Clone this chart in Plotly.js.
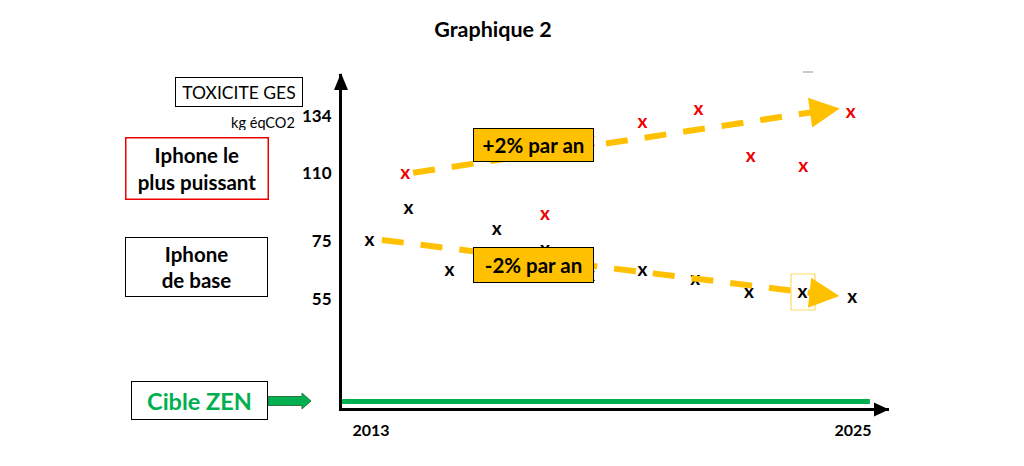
<!DOCTYPE html>
<html><head><meta charset="utf-8">
<script src="https://cdn.plot.ly/plotly-3.0.1.min.js"></script>
<style>html,body{margin:0;padding:0;background:#fff;} #chart{width:1024px;height:466px;}</style>
</head><body><div id="chart"></div>
<script>
// ---- data (schematic y scale) ----
const baseYears   = [2012.96, 2013.93, 2014.95, 2016.13, 2017.33, 2018.45, 2019.76, 2021.07, 2022.41, 2023.74, 2024.98];
const baseValues  = [80.0, 93.7, 67.1, 84.8, 76.2, 64.9, 66.8, 63.2, 57.5, 57.5, 55.3];
const topYears    = [2013.85, 2017.33, 2018.45, 2019.76, 2021.15, 2022.45, 2023.76, 2024.94];
const topValues   = [109.0, 91.0, 123.2, 130.9, 136.3, 116.0, 111.7, 135.4];
const upTrendYears    = [2014.05, 2023.97, 2024.67];
const upTrendValues   = [109.5, 135.6, 137.3];
const downTrendYears  = [2013.27, 2023.97, 2024.66];
const downTrendValues = [80.5, 57.6, 56.3];
const zenYears  = [2012.28, 2025.42];
const zenValues = [10.7, 10.7];
const xTickVals = [2013, 2025];
const xTickText = ['2013', '2025'];
const yTickVals = [55, 80, 109.4, 134];
const yTickText = ['55', '75', '110', '134'];
const upLabel = '+2% par an';
const downLabel = '-2% par an';

// ---- layout helpers (pixel -> paper, for decorations outside the plot) ----
const L = 342, R = 135, T = 74, B = 58, W = 1024, H = 466;
const PW = W - L - R, PH = H - T - B;
const px = v => (v - L) / PW;
const py = v => (H - B - v) / PH;
function path(pts) {
  return 'M' + pts.map(p => px(p[0]).toFixed(5) + ',' + py(p[1]).toFixed(5)).join(' L') + ' Z';
}
const GOLD = '#FFC000', GREEN = '#00B050', RED = '#EE0000';
const FONT = 'Lato, "Open Sans", sans-serif';

const traces = [
  {x: baseYears, y: baseValues, mode: 'text', text: baseYears.map(() => 'x'),
   textfont: {family: FONT, size: 19, color: '#000', weight: 700}, hoverinfo: 'skip', cliponaxis: false},
  {x: topYears, y: topValues, mode: 'text', text: topYears.map(() => 'x'),
   textfont: {family: FONT, size: 19, color: RED, weight: 700}, hoverinfo: 'skip', cliponaxis: false},
  {x: zenYears, y: zenValues, mode: 'lines', line: {color: GREEN, width: 5}, hoverinfo: 'skip'},
  {x: upTrendYears.slice(0, 2), y: upTrendValues.slice(0, 2), mode: 'lines',
   line: {color: GOLD, width: 6, dash: '22px,17px'}, hoverinfo: 'skip'},
  {x: downTrendYears.slice(0, 2), y: downTrendValues.slice(0, 2), mode: 'lines',
   line: {color: GOLD, width: 6, dash: '22px,17px'}, hoverinfo: 'skip'}
];

function box(cx, cy, w, h, text, opts) {
  return Object.assign({
    xref: 'paper', yref: 'paper', x: px(cx), y: py(cy), xanchor: 'center', yanchor: 'middle',
    width: w, height: h, text: text, showarrow: false, borderpad: 0, align: 'center', valign: 'middle',
    font: {family: FONT, size: 20.5, color: '#000', weight: 700}
  }, opts || {});
}

const layout = {
  width: W, height: H,
  margin: {l: L, r: R, t: T, b: B, pad: 0},
  paper_bgcolor: '#fff', plot_bgcolor: '#fff', showlegend: false,
  font: {family: FONT, color: '#000'},
  title: {text: '<b>Graphique 2</b>', xref: 'container', yref: 'container',
          x: 493 / W, y: 1 - 29 / H, xanchor: 'center', yanchor: 'middle',
          font: {family: FONT, size: 21.5, color: '#000'}},
  xaxis: {range: [2012.278, 2025.895], showgrid: false, zeroline: false, showline: true,
          linecolor: '#000', linewidth: 3, tickvals: xTickVals, ticktext: xTickText, ticks: '',
          tickfont: {family: FONT, size: 16, color: '#000', weight: 700}, ticklabelstandoff: 6, fixedrange: true},
  yaxis: {range: [7.94, 152.15], showgrid: false, zeroline: false, showline: true,
          linecolor: '#000', linewidth: 3, tickvals: yTickVals, ticktext: yTickText, ticks: '',
          tickfont: {family: FONT, size: 17, color: '#000', weight: 700}, ticklabelstandoff: 4, fixedrange: true},
  shapes: [
    // axis arrowheads
    {type: 'path', xref: 'paper', yref: 'paper', path: path([[341, 73], [348, 90], [334, 90]]),
     fillcolor: '#000', line: {width: 0}},
    {type: 'path', xref: 'paper', yref: 'paper', path: path([[889, 409.5], [874, 402.5], [874, 416.5]]),
     fillcolor: '#000', line: {width: 0}},
    // green block arrow towards the target line
    {type: 'path', xref: 'paper', yref: 'paper',
     path: path([[268, 396.5], [302, 396.5], [302, 393], [311, 401], [302, 409], [302, 405.5], [268, 405.5]]),
     fillcolor: GREEN, line: {color: '#2A7A45', width: 1}},
    // small highlight box
    {type: 'rect', xref: 'paper', yref: 'paper', x0: px(791), x1: px(815), y0: py(310), y1: py(274),
     line: {color: '#FFD966', width: 1.2}},
    {type: 'line', xref: 'paper', yref: 'paper', x0: px(803), x1: px(813), y0: py(72), y1: py(72),
     line: {color: '#B8B8B8', width: 1.5}}
  ],
  annotations: [
    box(239, 92, 126, 28, 'TOXICITE GES', {bordercolor: '#000', borderwidth: 1,
        font: {family: FONT, size: 17.5, color: '#000', weight: 400}}),
    box(263, 122, 80, 16, 'kg éqCO2', {font: {family: FONT, size: 14.5, color: '#000', weight: 400}}),
    box(196.5, 168, 141, 60, 'Iphone le<br>plus puissant', {bordercolor: RED, borderwidth: 1.5}),
    box(196.5, 267, 141, 58, 'Iphone<br>de base', {bordercolor: '#000', borderwidth: 1}),
    box(199.5, 400.5, 135, 37, 'Cible ZEN', {bordercolor: '#000', borderwidth: 1,
        font: {family: FONT, size: 23.5, color: GREEN, weight: 700}}),
    box(533.5, 145, 119, 32, upLabel, {bgcolor: GOLD, bordercolor: '#000', borderwidth: 1}),
    box(533.5, 265, 119, 34, downLabel, {bgcolor: GOLD, bordercolor: '#000', borderwidth: 1}),
    // trend arrowheads
    {x: upTrendYears[2], y: upTrendValues[2], ax: upTrendYears[1], ay: upTrendValues[1],
     xref: 'x', yref: 'y', axref: 'x', ayref: 'y', text: '', showarrow: true,
     arrowhead: 2, arrowwidth: 6, arrowsize: 1, arrowcolor: GOLD},
    {x: downTrendYears[2], y: downTrendValues[2], ax: downTrendYears[1], ay: downTrendValues[1],
     xref: 'x', yref: 'y', axref: 'x', ayref: 'y', text: '', showarrow: true,
     arrowhead: 2, arrowwidth: 6, arrowsize: 1, arrowcolor: GOLD}
  ]
};

Plotly.newPlot('chart', traces, layout, {displayModeBar: false, staticPlot: true});
</script>
</body></html>
